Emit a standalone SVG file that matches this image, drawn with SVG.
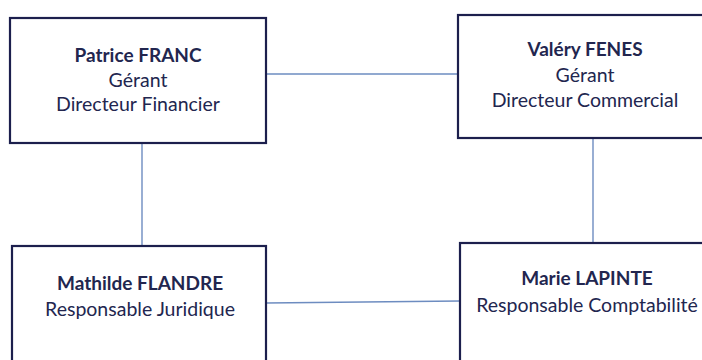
<svg xmlns="http://www.w3.org/2000/svg" width="702" height="360" viewBox="0 0 702 360">
<style>
.box{fill:#ffffff;stroke:#1c1f4d;stroke-width:2.2}
.t{font-family:Lato,"Open Sans","Liberation Sans",sans-serif;font-size:19.5px;fill:#22264f;text-anchor:middle}
.b{font-weight:bold;font-size:19px}
.c{stroke:#6d8cc0;stroke-width:1.4;fill:none}
</style>
<rect width="702" height="360" fill="#ffffff"/>
<g id="connectors">
<line class="c" x1="266" y1="74" x2="458" y2="74"/>
<line class="c" x1="142" y1="143" x2="142" y2="246"/>
<line class="c" x1="593" y1="138" x2="593" y2="243"/>
<line class="c" x1="266" y1="303" x2="460" y2="301"/>
</g>
<g id="patrice">
<rect class="box" x="10" y="18" width="256" height="125"/>
<text class="t b" x="138" y="62">Patrice FRANC</text>
<text class="t" x="138" y="87">Gérant</text>
<text class="t" x="138" y="111">Directeur Financier</text>
</g>
<g id="valery">
<rect class="box" x="458" y="15" width="260" height="123"/>
<text class="t b" x="585" y="56">Valéry FENES</text>
<text class="t" x="585" y="82">Gérant</text>
<text class="t" x="585" y="107">Directeur Commercial</text>
</g>
<g id="mathilde">
<rect class="box" x="12" y="246" width="254" height="130"/>
<text class="t b" x="140" y="290">Mathilde FLANDRE</text>
<text class="t" x="140" y="316">Responsable Juridique</text>
</g>
<g id="marie">
<rect class="box" x="460" y="243" width="260" height="130"/>
<text class="t b" x="587" y="285">Marie LAPINTE</text>
<text class="t" x="587" y="312">Responsable Comptabilité</text>
</g>
</svg>
